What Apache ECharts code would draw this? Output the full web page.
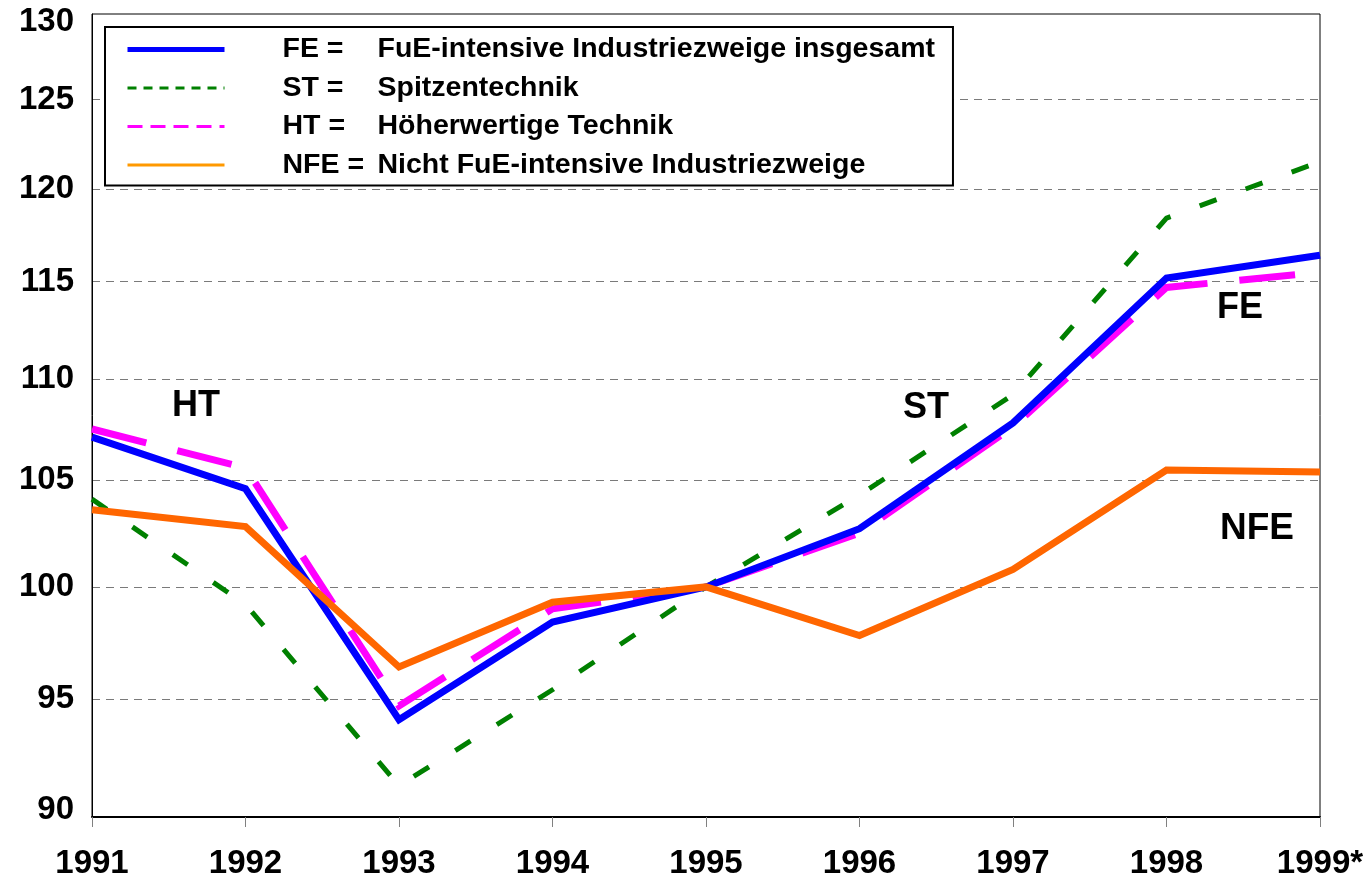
<!DOCTYPE html>
<html>
<head>
<meta charset="utf-8">
<script src="https://cdn.jsdelivr.net/npm/echarts@6/dist/echarts.min.js"></script>
<style>
  body { margin: 0; background: #ffffff; }
  #main { width: 1371px; height: 882px; }
</style>
</head>
<body>
<div id="main"></div>
<script>
// Jahre (1999 geschätzt)
var years = ['1991', '1992', '1993', '1994', '1995', '1996', '1997', '1998', '1999*']
// Index 1995 = 100
var feValues = [107.1, 104.6, 94.1, 98.4, 100, 102.7, 107.8, 115.2, 116.4]
var stValues = [104.1, 99.2, 91.3, 95.4, 100, 104.3, 109.2, 118.4, 121.5]
var htValues = [107.5, 105.6, 94.7, 99.0, 100, 102.5, 107.6, 114.7, 115.5]
var nfeValues = [103.6, 102.8, 96.4, 99.3, 100, 97.8, 100.8, 105.5, 105.4]
// Achse (logarithmisch)
var yLabels = [90, 95, 100, 105, 110, 115, 120, 125, 130]
var yGrid = [95, 100, 105, 110, 115, 120, 125]
// Legende
var legendTexts = {
  FE: 'FuE-intensive Industriezweige insgesamt',
  ST: 'Spitzentechnik',
  HT: 'Höherwertige Technik',
  NFE: 'Nicht FuE-intensive Industriezweige'
}

var font = '"Liberation Sans", Arial, sans-serif'
var chart = echarts.init(document.getElementById('main'))

var noSymbol = { color: 'rgba(0,0,0,0)', borderWidth: 0, opacity: 0 }

var option = {
  animation: false,
  backgroundColor: '#ffffff',
  grid: {
    left: 92,
    right: 51,
    top: 14,
    bottom: 65,
    show: true,
    borderColor: '#000',
    borderWidth: 1
  },
  legend: {
    orient: 'vertical',
    left: 105,
    top: 27,
    padding: [8, 18, 6, 20],
    backgroundColor: '#fff',
    borderColor: '#000',
    borderWidth: 2,
    itemWidth: 97,
    itemHeight: 14,
    itemGap: 9.5,
    selectedMode: false,
    data: [
      { name: 'FE', itemStyle: noSymbol, lineStyle: { color: '#0000ff', width: 5, type: 'solid' } },
      { name: 'ST', itemStyle: noSymbol, lineStyle: { color: '#008000', width: 3, type: [9, 7] } },
      { name: 'HT', itemStyle: noSymbol, lineStyle: { color: '#ff00ff', width: 3, type: [15, 8] } },
      { name: 'NFE', itemStyle: noSymbol, lineStyle: { color: '#ff9900', width: 3, type: 'solid' } }
    ],
    formatter: function (name) {
      return '{k|' + name + ' =}{d|' + legendTexts[name] + '}'
    },
    textStyle: {
      fontFamily: font,
      fontWeight: 'bold',
      fontSize: 28.5,
      color: '#000',
      rich: {
        k: { width: 95, padding: [0, 0, 0, 53], fontFamily: font, fontWeight: 'bold', fontSize: 28.5 },
        d: { fontFamily: font, fontWeight: 'bold', fontSize: 28.5 }
      }
    }
  },
  xAxis: {
    type: 'category',
    data: years,
    boundaryGap: false,
    axisLine: { lineStyle: { color: '#000', width: 2 } },
    axisTick: { show: true, length: 10, lineStyle: { color: '#808080', width: 1 } },
    axisLabel: {
      margin: 30,
      fontFamily: font,
      fontWeight: 'bold',
      fontSize: 33,
      color: '#000'
    },
    splitLine: { show: false }
  },
  yAxis: {
    type: 'log',
    logBase: 10,
    min: 90,
    max: 130,
    axisLine: { show: true, lineStyle: { color: '#000', width: 1 } },
    axisTick: { show: false, customValues: yGrid },
    axisLabel: {
      customValues: yLabels,
      margin: 18,
      color: '#000',
      fontFamily: font,
      fontWeight: 'bold',
      fontSize: 33,
      formatter: function (v) {
        var val = Math.round(v)
        if (val === 130) return '{t|' + val + '}'
        if (val === 90) return '{b|' + val + '}'
        return '{n|' + val + '}'
      },
      rich: {
        t: { padding: [16, 0, 0, 0], fontFamily: font, fontWeight: 'bold', fontSize: 33, color: '#000' },
        b: { padding: [0, 0, 14, 0], fontFamily: font, fontWeight: 'bold', fontSize: 33, color: '#000' },
        n: { fontFamily: font, fontWeight: 'bold', fontSize: 33, color: '#000' }
      }
    },
    splitLine: {
      show: true,
      lineStyle: { color: '#7a7a7a', width: 1, type: [8, 6] }
    }
  },
  graphic: [
    { type: 'text', left: 172, top: 388, style: { text: 'HT', font: 'bold 36px ' + font, fill: '#000' } },
    { type: 'text', left: 903, top: 390, style: { text: 'ST', font: 'bold 36px ' + font, fill: '#000' } },
    { type: 'text', left: 1217, top: 290, style: { text: 'FE', font: 'bold 36px ' + font, fill: '#000' } },
    { type: 'text', left: 1220, top: 510, style: { text: 'NFE', font: 'bold 37px ' + font, fill: '#000' } }
  ],
  series: [
    {
      name: 'ST',
      type: 'line',
      data: stValues,
      symbol: 'none',
      color: '#008000',
      lineStyle: { color: '#008000', width: 5, type: [18, 31], join: 'miter' }
    },
    {
      name: 'HT',
      type: 'line',
      data: htValues,
      symbol: 'none',
      color: '#ff00ff',
      lineStyle: { color: '#ff00ff', width: 7, type: [56, 32], join: 'miter' }
    },
    {
      name: 'FE',
      type: 'line',
      data: feValues,
      symbol: 'none',
      color: '#0000ff',
      lineStyle: { color: '#0000ff', width: 7, join: 'miter' }
    },
    {
      name: 'NFE',
      type: 'line',
      data: nfeValues,
      symbol: 'none',
      color: '#ff6600',
      lineStyle: { color: '#ff6600', width: 7, join: 'miter' }
    }
  ]
}

chart.setOption(option)
</script>
</body>
</html>
